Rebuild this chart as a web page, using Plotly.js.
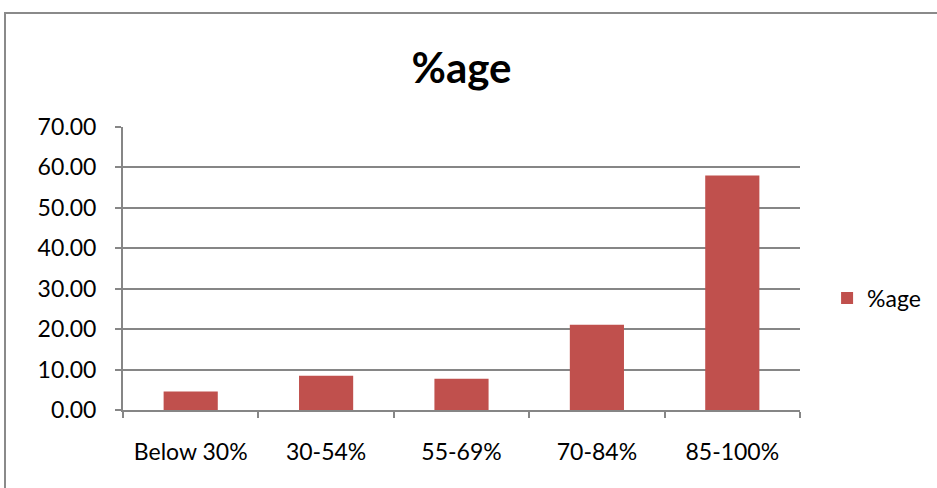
<!DOCTYPE html>
<html><head><meta charset="utf-8">
<script src="https://cdn.plot.ly/plotly-3.0.1.min.js"></script>
<style>
html,body{margin:0;padding:0;background:#fff;overflow:hidden;}
#frame{position:absolute;left:4px;top:12px;width:1000px;height:600px;border:2px solid #8a8a8a;}
#chart{position:absolute;left:0;top:0;width:937px;height:488px;}
</style></head>
<body>
<div id="frame"></div>
<div id="chart"></div>
<script>
const categories = ["Below 30%", "30-54%", "55-69%", "70-84%", "85-100%"];
const values = [4.6, 8.5, 7.7, 21.1, 58.0];
const seriesName = "%age";
const yTicks = [0, 10, 20, 30, 40, 50, 60, 70];
const yTickLabels = ["0.00", "10.00", "20.00", "30.00", "40.00", "50.00", "60.00", "70.00"];

const font = "Lato, 'Open Sans', sans-serif";
Plotly.newPlot("chart", [{
  type: "bar", x: categories, y: values, name: seriesName,
  marker: {color: "#c0504d"}, showlegend: true
}], {
  width: 937, height: 488,
  margin: {l: 123, r: 137, t: 127, b: 78, autoexpand: false},
  paper_bgcolor: "rgba(0,0,0,0)", plot_bgcolor: "rgba(0,0,0,0)",
  font: {family: font, color: "#000", size: 23},
  title: {text: "<b>%age</b>", font: {size: 42, family: font, color: "#000"}, x: 0.5, xanchor: "center", y: 0.86, yanchor: "middle", xref: "paper"},
  bargap: 0.6,
  xaxis: {
    showline: true, linecolor: "#868686", linewidth: 2, automargin: false,
    ticks: "outside", tickson: "boundaries", ticklen: 6, tickcolor: "#868686", tickwidth: 2,
    ticklabelstandoff: 20, tickfont: {size: 23}, showgrid: false, fixedrange: true
  },
  yaxis: {
    range: [0, 70], tickvals: yTicks, ticktext: yTickLabels, automargin: false,
    showline: true, linecolor: "#868686", linewidth: 2,
    ticks: "outside", ticklen: 6, tickcolor: "#868686", tickwidth: 2,
    showgrid: true, gridcolor: "#868686", gridwidth: 2,
    zeroline: false, ticklabelstandoff: 14, tickfont: {size: 23}
  },
  legend: {x: 1.04, xanchor: "left", y: 0.396, yanchor: "middle", font: {size: 23}, bgcolor: "rgba(0,0,0,0)"}
}, {displayModeBar: false, staticPlot: true});
</script>
</body></html>
